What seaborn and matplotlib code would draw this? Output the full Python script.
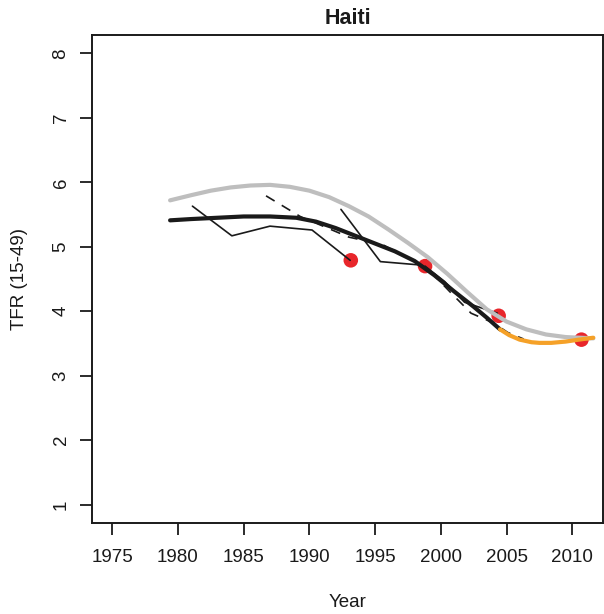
import numpy as np
import pandas as pd
import matplotlib
matplotlib.use("Agg")
import matplotlib.pyplot as plt
import seaborn as sns

# observed survey points
obs_year = [1993.15, 1998.8, 2004.4, 2010.7]
obs_tfr = [4.79, 4.70, 3.93, 3.56]

# survey series (thin lines)
s1_year = [1981.1, 1984.1, 1987.0, 1990.2, 1993.1]
s1_tfr = [5.63, 5.17, 5.32, 5.26, 4.79]
s2_year = [1992.4, 1995.4, 1998.3]
s2_tfr = [5.58, 4.77, 4.72]
s3_year = [1998.8, 2000.3, 2001.8, 2004.3]
s3_tfr = [4.70, 4.46, 4.14, 3.97]

# dashed series
d_year = [1986.7, 1989.3, 1993.0, 1995.6, 1998.0, 1999.0, 2000.7, 2002.3, 2004.0, 2005.1, 2006.3]
d_tfr = [5.79, 5.47, 5.15, 5.03, 4.77, 4.66, 4.30, 3.97, 3.82, 3.67, 3.57]

# grey smooth curve
g_year = [1979.4, 1981.0, 1982.5, 1984.0, 1985.5, 1987.0, 1988.5, 1990.0, 1991.5,
          1993.0, 1994.5, 1996.0, 1997.5, 1999.0, 2000.5, 2002.0, 2003.5, 2005.0,
          2006.5, 2008.0, 2009.5, 2011.6]
g_tfr = [5.72, 5.80, 5.87, 5.92, 5.95, 5.96, 5.93, 5.87, 5.77,
         5.63, 5.47, 5.27, 5.06, 4.84, 4.58, 4.30, 4.03, 3.84,
         3.72, 3.64, 3.60, 3.58]

# black fitted curve
b_year = [1979.4, 1981.0, 1983.0, 1985.0, 1987.0, 1989.0, 1990.5, 1992.0, 1993.5,
          1995.0, 1996.5, 1998.0, 1999.5, 2001.0, 2002.5, 2003.5, 2004.5]
b_tfr = [5.41, 5.43, 5.45, 5.47, 5.47, 5.45, 5.39, 5.29, 5.17,
         5.05, 4.93, 4.78, 4.56, 4.31, 4.07, 3.90, 3.72]

# orange projection
o_year = [2004.5, 2005.2, 2006.0, 2006.9, 2007.5, 2008.4, 2009.5, 2010.5, 2011.6]
o_tfr = [3.72, 3.63, 3.56, 3.52, 3.51, 3.51, 3.53, 3.56, 3.59]

sns.set_style("ticks")
plt.rcParams['font.family'] = ['Liberation Sans', 'DejaVu Sans']

fig = plt.figure(figsize=(6.04, 6.14), dpi=100)
ax = fig.add_axes([0.1528, 0.1477, 0.846, 0.7953])

sns.scatterplot(x=obs_year, y=obs_tfr, ax=ax, color='#E8262B', s=110,
                edgecolor='none', zorder=2)

for yy, tt in [(s1_year, s1_tfr), (s2_year, s2_tfr), (s3_year, s3_tfr)]:
    sns.lineplot(x=yy, y=tt, ax=ax, color='#1a1a1a', linewidth=1.2,
                 sort=False, estimator=None, zorder=3)

sns.lineplot(x=d_year, y=d_tfr, ax=ax, color='#1a1a1a', linewidth=1.2,
             sort=False, estimator=None, zorder=3, linestyle=(0, (6, 5)))
sns.lineplot(x=g_year, y=g_tfr, ax=ax, color='#BEBEBE', linewidth=3.0,
             sort=False, estimator=None, zorder=4)
sns.lineplot(x=b_year, y=b_tfr, ax=ax, color='#1a1a1a', linewidth=3.0,
             sort=False, estimator=None, zorder=4)
sns.lineplot(x=o_year, y=o_tfr, ax=ax, color='#F5A128', linewidth=3.0,
             sort=False, estimator=None, zorder=5)

ax.set_xlim(1973.48, 2012.36)
ax.set_ylim(0.712, 8.284)
ax.set_xticks(range(1975, 2011, 5))
ax.set_yticks(range(1, 9))
for lab in ax.get_yticklabels():
    lab.set_rotation(90)
    lab.set_va('center')
ax.tick_params(axis='both', direction='out', length=8.4, width=1.3,
               color='#1a1a1a', labelsize=13.5, labelcolor='#1a1a1a')
ax.tick_params(axis='x', pad=10)
ax.tick_params(axis='y', pad=8)
for sp in ax.spines.values():
    sp.set_color('#1a1a1a')
    sp.set_linewidth(1.4)

ax.set_xlabel('Year', fontsize=13.5, color='#1a1a1a', labelpad=20)
ax.set_ylabel('TFR (15-49)', fontsize=13.5, color='#1a1a1a', labelpad=18)
ax.set_title('Haiti', fontsize=15.5, fontweight='bold', color='#1a1a1a', pad=8)

fig.savefig('out.png', dpi=100)
